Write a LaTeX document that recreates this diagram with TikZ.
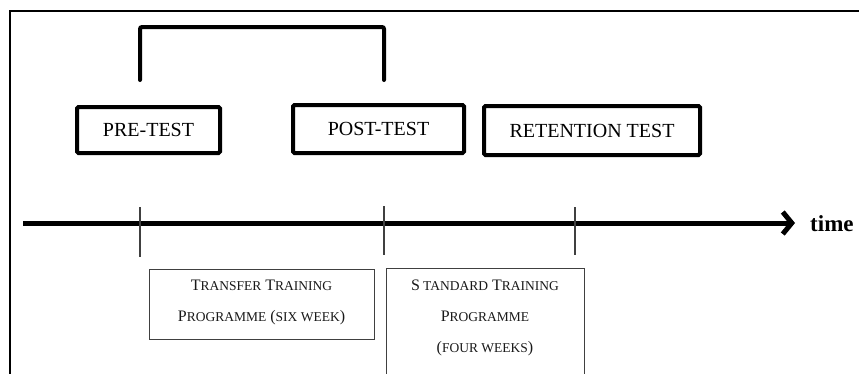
\documentclass[tikz,border=0pt]{standalone}
\usepackage{fontspec}
\setmainfont{Liberation Serif}
\usetikzlibrary{arrows.meta}
\newcommand\smlc[1]{{\fontsize{13.5}{15}\selectfont #1}}
\begin{document}
\begin{tikzpicture}[x=1pt,y=-1pt,
  testbox/.style={draw, line width=4pt, rounded corners=1.5pt, inner sep=0pt, font=\fontsize{20}{22}\selectfont},
  progbox/.style={draw=black!75, line width=1pt, inner sep=0pt},
  progtext/.style={align=center, inner sep=0pt, text=black!90, font=\fontsize{16}{31}\selectfont},
  tick/.style={draw=black!75, line width=1.5pt},
  bracketline/.style={line width=4pt, line cap=round, rounded corners=2pt},
  frameline/.style={line width=1.3pt}]
\useasboundingbox (0,0) rectangle (859,373);
\fill[white] (0,0) rectangle (859,373);
% frame
\coordinate (fbl) at (10,390);
\coordinate (ftl) at (10,11);
\coordinate (ftr) at (870,11);
\draw[frameline] (fbl) -- (ftl) -- (ftr);
% test boxes
\node[testbox, minimum width=143, minimum height=46] (pre) at (148.5,130) {PRE-TEST};
\node[testbox, minimum width=171, minimum height=48] (post) at (378.5,129) {POST-TEST};
\node[testbox, minimum width=216, minimum height=49] (ret) at (592,130.5) {RETENTION TEST};
% bracket
\coordinate (b1) at (140,80);
\coordinate (b2) at (384,80);
\draw[bracketline] (b1) -- (140,27) -- (384,27) -- (b2);
% timeline
\coordinate (ts) at (23,223);
\coordinate (te) at (795,223);
\draw[line width=5pt, -{Straight Barb[length=9pt,width=22pt]}] (ts) -- (te);
\node[anchor=west, inner sep=0pt, font=\fontsize{23}{25}\selectfont\bfseries] (time) at (810,224) {time};
% ticks
\coordinate (t1a) at (140,207); \coordinate (t1b) at (140,257);
\coordinate (t2a) at (384,206); \coordinate (t2b) at (384,255);
\coordinate (t3a) at (575,207); \coordinate (t3b) at (575,255);
\draw[tick] (t1a) -- (t1b);
\draw[tick] (t2a) -- (t2b);
\draw[tick] (t3a) -- (t3b);
% programme boxes
\node[progbox, minimum width=225, minimum height=70] (trans) at (261.5,304) {};
\node[progtext] (transt) at (261.5,302.5)
  {T\smlc{RANSFER} T\smlc{RAINING}\\P\smlc{ROGRAMME} (\smlc{SIX WEEK})};
\node[progbox, minimum width=198, minimum height=130, anchor=north] (std) at (485,268) {};
\node[progtext] (stdt) at (485,317.5)
  {S\kern3pt\smlc{TANDARD} T\smlc{RAINING}\\P\smlc{ROGRAMME}\\(\smlc{FOUR WEEKS})};
\end{tikzpicture}
\end{document}
